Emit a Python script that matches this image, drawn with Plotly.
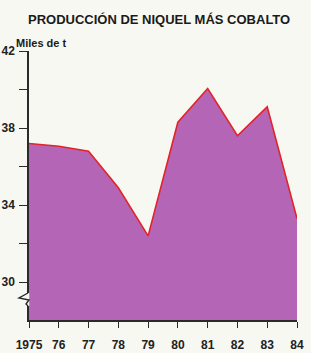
import plotly.graph_objects as go

years = [1975, 1976, 1977, 1978, 1979, 1980, 1981, 1982, 1983, 1984]
production = [37.2, 37.05, 36.8, 34.9, 32.4, 38.3, 40.05, 37.6, 39.1, 33.3]
x_tick_labels = ["1975", "76", "77", "78", "79", "80", "81", "82", "83", "84"]
y_tick_vals = [30, 32, 34, 36, 38, 40, 42]
y_tick_text = ["30", "", "34", "", "38", "", "42"]

title_text = "PRODUCCIÓN DE NIQUEL MÁS COBALTO"
unit_text = "Miles de t"

bg = "#f7f8f1"
fill_col = "#b565b6"
line_col = "#e2232a"
axis_col = "#2a2a2a"
font_family = "Liberation Sans, Arial, sans-serif"

fig = go.Figure()
fig.add_trace(go.Scatter(
    x=years, y=production, mode="lines",
    fill="tozeroy", fillcolor=fill_col,
    line=dict(color=line_col, width=1.6),
    hoverinfo="x+y",
))

fig.update_layout(
    width=311, height=353,
    margin=dict(l=29, r=14, t=51, b=33, autoexpand=False),
    paper_bgcolor=bg, plot_bgcolor=bg,
    showlegend=False,
    font=dict(family=font_family, color="#222", size=12),
    xaxis=dict(
        range=[1975, 1984], tickvals=years, ticktext=x_tick_labels,
        automargin=False,
        showgrid=False, zeroline=False, showline=True, linecolor=axis_col, linewidth=1.5,
        ticks="outside", ticklen=6, tickwidth=1.2, tickcolor=axis_col,
        ticklabelstandoff=7,
        tickfont=dict(family=font_family, size=12, color="#222", weight="bold"),
    ),
    yaxis=dict(
        range=[28.03, 42], tickvals=y_tick_vals, ticktext=y_tick_text,
        automargin=False,
        showgrid=False, zeroline=False, showline=True, linecolor=axis_col, linewidth=1.5,
        ticks="outside", ticklen=8, tickwidth=1.2, tickcolor=axis_col,
        ticklabelstandoff=2,
        tickfont=dict(family=font_family, size=12, color="#222", weight="bold"),
    ),
    annotations=[
        dict(text=title_text, xref="paper", yref="paper", x=0.486, y=1.0, yshift=32,
             xanchor="center", yanchor="middle", showarrow=False,
             font=dict(family=font_family, size=13, color="#1a1a1a", weight="bold")),
        dict(text=unit_text, xref="paper", yref="paper", x=0, xshift=-15, y=1.0, yshift=8,
             xanchor="left", yanchor="middle", showarrow=False,
             font=dict(family=font_family, size=11, color="#1a1a1a", weight="bold")),
    ],
    shapes=[
        # gap in the y axis line for the break symbol
        dict(type="line", xref="paper", yref="paper",
             xsizemode="pixel", xanchor=0, ysizemode="pixel", yanchor=0,
             x0=-1, x1=-1, y0=27, y1=14,
             line=dict(color=bg, width=2.5), layer="above"),
        # axis break symbol (zigzag) on the y axis
        dict(type="path", xref="paper", yref="paper",
             xsizemode="pixel", xanchor=0, ysizemode="pixel", yanchor=0,
             path="M-1,27 L-10,22 L0,20 L-3,16 L-1,14",
             line=dict(color=axis_col, width=1.4), layer="above"),
    ],
)

fig.write_html(
    "out.html",
    config={"displayModeBar": False},
    post_script="document.body.style.margin='0';document.body.style.background='%s';" % bg,
)
